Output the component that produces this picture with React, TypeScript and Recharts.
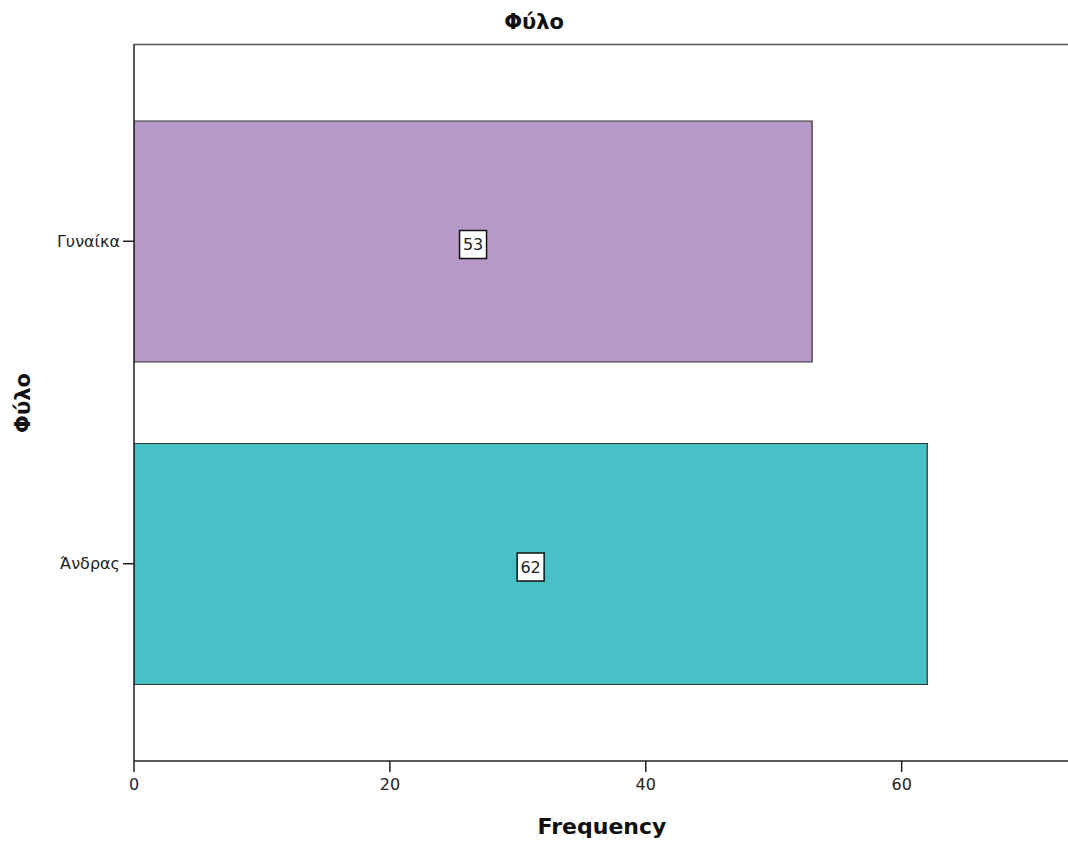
import { BarChart, Bar, XAxis, YAxis, Cell, LabelList, Label } from 'recharts';

const categories = ['Γυναίκα', 'Άνδρας'];
const frequencies = [53, 62];
const barColors = ['#b799c8', '#48c1c6'];
const xTicks = [0, 20, 40, 60];

const chartData = categories.map((name, i) => ({ name, value: frequencies[i] }));

const font = '"DejaVu Sans", sans-serif';

// white box with the count, centred on each bar
const ValueBox = (props: any) => {
  const { x, y, width, height, value } = props;
  const cx = x + width / 2;
  const cy = y + height / 2 + 3;
  return (
    <g>
      <rect x={cx - 13.5} y={cy - 14} width={27} height={28} fill="#fff" stroke="#111" strokeWidth={1.5} />
      <text x={cx} y={cy} textAnchor="middle" dominantBaseline="central" fontFamily={font} fontSize={16} fill="#222">
        {value}
      </text>
    </g>
  );
};

export default function App() {
  return (
    <div style={{ position: 'absolute', left: 0, top: 0, background: '#fff' }}>
      <BarChart
        width={1068}
        height={847}
        data={chartData}
        layout="vertical"
        margin={{ top: 44, right: 0, bottom: 0, left: 0 }}
      >
        <XAxis
          type="number"
          domain={[0, 73]}
          ticks={xTicks}
          allowDataOverflow
          height={86}
          tickSize={11}
          tickMargin={7}
          axisLine={{ stroke: '#222', strokeWidth: 1.5 }}
          tickLine={{ stroke: '#222', strokeWidth: 1.5 }}
          tick={{ fontFamily: font, fontSize: 16, fill: '#222' }}
          label={
            <Label
              content={() => (
                <text x={602} y={826} textAnchor="middle" dominantBaseline="central" fontFamily={font} fontWeight="bold" fontSize={22} fill="#111">
                  Frequency
                </text>
              )}
            />
          }
        />
        <YAxis
          type="category"
          dataKey="name"
          width={134}
          padding={{ top: 36, bottom: 36 }}
          tickSize={11}
          tickMargin={3}
          axisLine={{ stroke: '#222', strokeWidth: 1.5 }}
          tickLine={{ stroke: '#222', strokeWidth: 1.5 }}
          tick={{ fontFamily: font, fontSize: 16, fill: '#222' }}
          label={
            <Label
              content={() => (
                <g>
                  {/* title and top frame line */}
                  <text x={534} y={22} textAnchor="middle" dominantBaseline="central" fontFamily={font} fontWeight="bold" fontSize={21} fill="#111">
                    Φύλο
                  </text>
                  <line x1={134} y1={44.5} x2={1068} y2={44.5} stroke="#555" strokeWidth={1.5} />
                  <text
                    x={23}
                    y={403}
                    transform="rotate(-90 23 403)"
                    textAnchor="middle"
                    dominantBaseline="central"
                    fontFamily={font}
                    fontWeight="bold"
                    fontSize={21}
                    fill="#111"
                  >
                    Φύλο
                  </text>
                </g>
              )}
            />
          }
        />
        <Bar dataKey="value" barSize={241} stroke="#333" strokeWidth={1.2} isAnimationActive={false}>
          {chartData.map((d, i) => (
            <Cell key={d.name} fill={barColors[i]} />
          ))}
          <LabelList dataKey="value" content={ValueBox} />
        </Bar>
      </BarChart>
    </div>
  );
}
